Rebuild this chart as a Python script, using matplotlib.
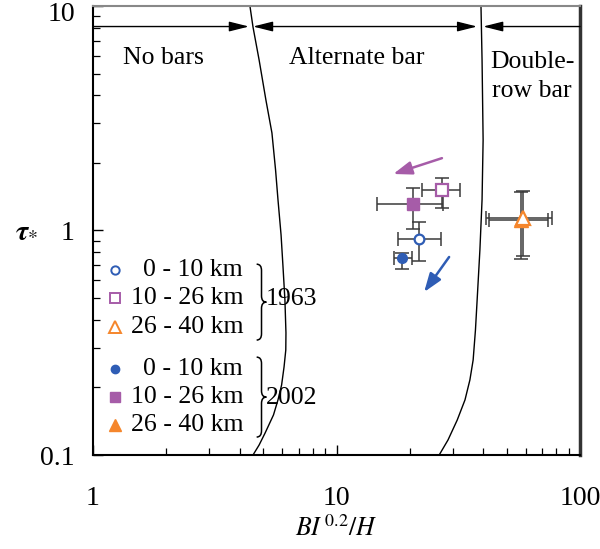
import numpy as np
import matplotlib
matplotlib.use('Agg')
from matplotlib import pyplot as plt
from matplotlib.path import Path
from matplotlib.patches import PathPatch
from matplotlib.transforms import ScaledTranslation

plt.rcParams['font.family'] = ['Liberation Serif', 'DejaVu Serif']
plt.rcParams['mathtext.fontset'] = 'stix'

# data
labels = ['0 - 10 km', '10 - 26 km', '26 - 40 km']
colors = ['#2F5DB5', '#A65CA8', '#F5862C']
markers = ['o', 's', '^']

x_1963 = [21.8, 27.1, 58.5]
y_1963 = [0.92, 1.52, 1.14]
xlo_1963 = [17.9, 22.4, 41.0]
xhi_1963 = [26.9, 32.2, 76.5]
ylo_1963 = [0.73, 1.26, 0.77]
yhi_1963 = [1.09, 1.71, 1.50]

x_2002 = [18.6, 20.6, 57.5]
y_2002 = [0.755, 1.31, 1.11]
xlo_2002 = [17.2, 14.7, 42.3]
xhi_2002 = [20.4, 27.4, 73.9]
ylo_2002 = [0.674, 1.016, 0.75]
yhi_2002 = [0.794, 1.55, 1.48]

# regime boundaries
left_bx = [4.41, 4.54, 4.81, 5.13, 5.43, 5.62, 5.75, 5.92, 6.03, 6.14,
           6.20, 6.19, 6.09, 5.95, 5.75, 5.51, 5.09, 4.81, 4.54]
left_by = [10.0, 8.06, 5.75, 3.81, 2.72, 1.86, 1.37, 0.955, 0.688, 0.490,
           0.350, 0.2935, 0.247, 0.205, 0.176, 0.1508, 0.1253, 0.1108, 0.1]
right_bx = [39.2, 39.6, 40.0, 39.6, 38.8, 37.8, 37.2, 36.4, 35.3, 33.7, 31.3, 28.7, 26.4]
right_by = [10.0, 5.75, 2.53, 1.37, 0.819, 0.490, 0.360, 0.265, 0.216, 0.176, 0.143, 0.1167, 0.1]

# trend arrows (start, end)
arrow_purple = [(27.1, 2.10), (17.1, 1.785)]
arrow_blue = [(29.0, 0.762), (22.9, 0.532)]

regime_y = 8.1
regime_edges = [1, 4.37, 4.54, 37.8, 40.0, 100]

fs = 18.5
fig = plt.figure(figsize=(6.0, 5.49), dpi=100)
ax = fig.add_axes([0.155, 0.1712, 0.8117, 0.8179])
ax.set_xscale('log')
ax.set_yscale('log')
ax.set_xlim(1, 100)
ax.set_ylim(0.1, 10)


def draw_errors(x, y, xlo, xhi, ylo, yhi):
    x, y = np.array(x), np.array(y)
    xerr = [x - np.array(xlo), np.array(xhi) - x]
    yerr = [y - np.array(ylo), np.array(yhi) - y]
    ax.errorbar(x, y, xerr=xerr, yerr=yerr, fmt='none', ecolor='#3a3a3a',
                elinewidth=1.1, capsize=5, capthick=1.1, zorder=2)


draw_errors(x_1963, y_1963, xlo_1963, xhi_1963, ylo_1963, yhi_1963)
draw_errors(x_2002, y_2002, xlo_2002, xhi_2002, ylo_2002, yhi_2002)

sizes = [7, 8, 9.5]
for i in range(3):
    ax.plot(x_2002[i], y_2002[i], marker=markers[i], color=colors[i], ms=sizes[i],
            mec=colors[i], ls='none', zorder=3)
    ax.plot(x_1963[i], y_1963[i], marker=markers[i], mfc='white', mec=colors[i],
            ms=sizes[i], mew=1.6, ls='none', zorder=4)

ax.plot(left_bx, left_by, color='black', lw=1.0, clip_on=False)
ax.plot(right_bx, right_by, color='black', lw=1.0, clip_on=False)

for (s, e), c in [(arrow_purple, colors[1]), (arrow_blue, colors[0])]:
    ax.annotate('', xy=e, xytext=s,
                arrowprops=dict(arrowstyle='-|>,head_length=0.7,head_width=0.25',
                                mutation_scale=16, color=c, lw=1.8,
                                shrinkA=0, shrinkB=0))

# regime arrows along the top
arrow_kw = dict(color='black', lw=1.0, shrinkA=0, shrinkB=0, mutation_scale=12)
ax.annotate('', xy=(regime_edges[1], regime_y), xytext=(regime_edges[0], regime_y),
            arrowprops=dict(arrowstyle='-|>,head_length=1.0,head_width=0.25', **arrow_kw))
ax.annotate('', xy=(regime_edges[3], regime_y), xytext=(regime_edges[2], regime_y),
            arrowprops=dict(arrowstyle='<|-|>,head_length=1.0,head_width=0.25', **arrow_kw))
ax.annotate('', xy=(regime_edges[4], regime_y), xytext=(regime_edges[5], regime_y),
            arrowprops=dict(arrowstyle='-|>,head_length=1.0,head_width=0.25', **arrow_kw))

ax.text(1.94, 5.87, 'No bars', fontsize=fs, ha='center', va='center')
ax.text(12.1, 5.87, 'Alternate bar', fontsize=fs, ha='center', va='center')
ax.text(63.5, 4.85, 'Double-\nrow bar', fontsize=fs, ha='center', va='center',
        linespacing=1.45)

# legend, drawn by hand to get right-aligned labels and braces
rows = [0.412, 0.350, 0.285, 0.1915, 0.1292, 0.0668]
for i in range(3):
    ax.plot(0.045, rows[i], marker=markers[i], mfc='white', mec=colors[i],
            ms=sizes[i] - 1, mew=1.4, transform=ax.transAxes, clip_on=False)
    ax.text(0.308, rows[i], labels[i], fontsize=fs, ha='right', va='center',
            transform=ax.transAxes)
    ax.plot(0.045, rows[i + 3], marker=markers[i], color=colors[i],
            ms=sizes[i] - 1, transform=ax.transAxes, clip_on=False)
    ax.text(0.308, rows[i + 3], labels[i], fontsize=fs, ha='right', va='center',
            transform=ax.transAxes)


def brace(x, y0, y1, w=0.02, d=0.014):
    ym = (y0 + y1) / 2
    xm = x + w / 2
    verts = [(x, y1), (xm, y1), (xm, y1 - d), (xm, ym + d), (xm, ym), (x + w, ym),
             (xm, ym), (xm, ym - d), (xm, y0 + d), (xm, y0), (x, y0)]
    codes = [Path.MOVETO, Path.CURVE3, Path.CURVE3, Path.LINETO, Path.CURVE3,
             Path.CURVE3, Path.CURVE3, Path.CURVE3, Path.LINETO, Path.CURVE3,
             Path.CURVE3]
    ax.add_patch(PathPatch(Path(verts, codes), fc='none', ec='black', lw=1.1,
                           transform=ax.transAxes))


brace(0.336, 0.256, 0.425)
brace(0.336, 0.040, 0.218)
ax.text(0.354, 0.347, '1963', fontsize=fs, ha='left', va='center', transform=ax.transAxes)
ax.text(0.354, 0.127, '2002', fontsize=fs, ha='left', va='center', transform=ax.transAxes)

ax.set_xticks([1, 10, 100])
ax.set_xticklabels(['1', '10', '100'])
ax.set_yticks([0.1, 1, 10])
ax.set_yticklabels(['0.1', '1', '10'])
ax.tick_params(which='both', direction='in', top=False, right=False, labelsize=20)
ax.tick_params(axis='x', which='major', length=7, width=1.0, pad=22)
ax.tick_params(axis='y', which='major', length=7, width=1.0, pad=13)
ax.tick_params(which='minor', length=5, width=0.9)

# nudge the top "10" label down a little so it stays inside the figure
top_label = ax.yaxis.get_major_ticks()[2].label1
top_label.set_transform(top_label.get_transform()
                        + ScaledTranslation(0, -4 / 72, fig.dpi_scale_trans))

ax.spines['top'].set_color('#888888')
ax.spines['top'].set_linewidth(1.5)
ax.spines['right'].set_color('#333333')
ax.spines['right'].set_linewidth(2.5)
ax.spines['left'].set_linewidth(1.5)
ax.spines['bottom'].set_linewidth(1.5)

ax.set_xlabel(r'$BI^{\,\mathrm{0.2}}/H$', fontsize=fs, labelpad=3)
ax.set_ylabel(r'$\boldsymbol{\tau}_{*}$', fontsize=fs + 2, rotation=0, labelpad=10,
              va='center')

fig.savefig('out.png', dpi=100)
